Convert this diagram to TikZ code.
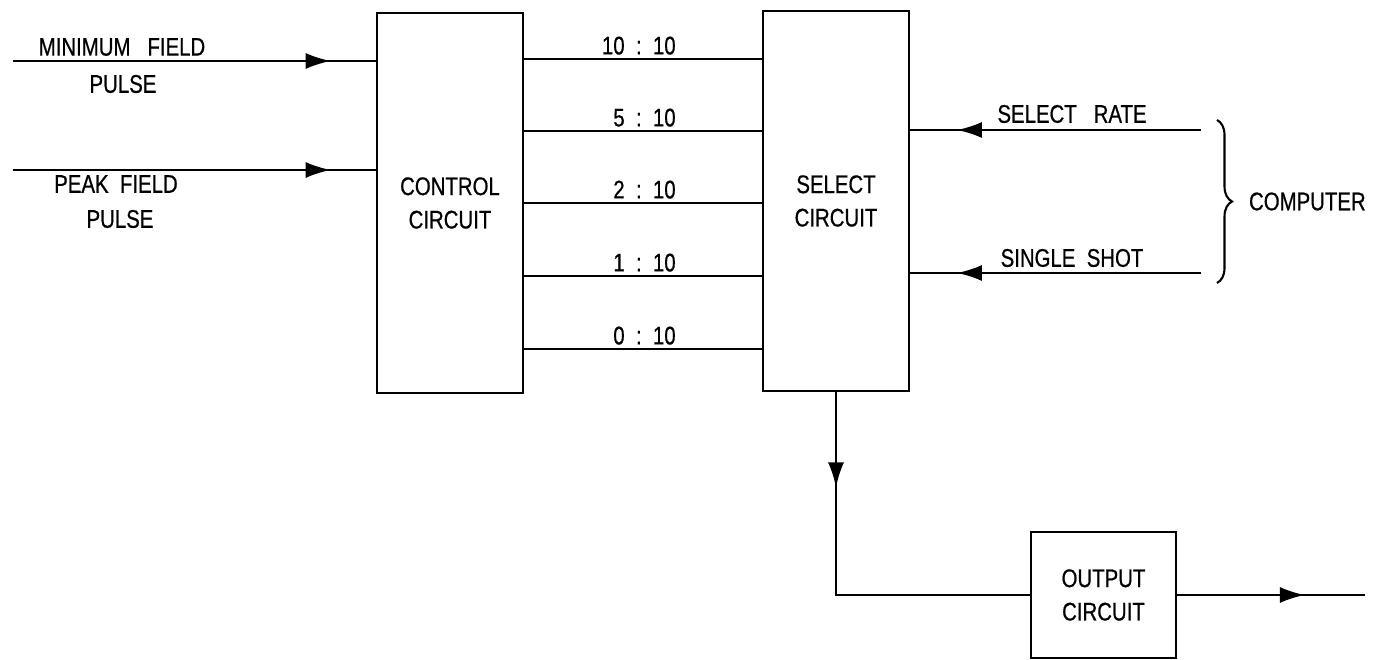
\documentclass[tikz,border=0pt]{standalone}
\usepackage{fontspec}
\setmainfont[FakeStretch=0.8,FakeBold=0.6]{Liberation Sans}
\usepackage{tikz}
\usetikzlibrary{positioning,arrows.meta,decorations.markings,decorations.pathreplacing}

\tikzset{
  blockbox/.style={draw,line width=1.5pt,minimum width=2.92cm,align=center,inner sep=0pt},
  sig/.style={line width=1.3pt},
  midarrow/.style={postaction={decorate},decoration={markings,
      mark=at position #1 with {\arrow{Latex[length=5mm,width=3.2mm]}}}},
  lbl/.style={inner sep=0pt,align=center}
}

\begin{document}
\begin{tikzpicture}[font=\fontsize{14.5}{19}\selectfont]
  \useasboundingbox (0,0) rectangle (27.6,13.2);
  % the three blocks
  \node[blockbox,minimum height=7.6cm] (ctrl) at (9.0,9.14) {CONTROL\\CIRCUIT};
  \node[blockbox,minimum height=7.6cm] (sel) at (16.72,9.18) {SELECT\\CIRCUIT};
  \node[blockbox,minimum width=2.9cm,minimum height=2.52cm] (outc) at (22.07,1.30) {OUTPUT\\CIRCUIT};

  % field pulse inputs
  \coordinate (minin) at (0.26,11.98);
  \coordinate (peakin) at (0.26,9.80);
  \draw[sig,midarrow=0.876] (minin) -- (ctrl.west |- minin);
  \draw[sig,midarrow=0.876] (peakin) -- (ctrl.west |- peakin);
  \node[lbl] (minlbl) at (2.44,12.26) {MINIMUM\ \ \ FIELD};
  \node[lbl] (minpls) at (2.46,11.52) {PULSE};
  \node[lbl] (peaklbl) at (2.32,9.52) {PEAK\ \ FIELD};
  \node[lbl] (peakpls) at (2.40,8.82) {PULSE};

  % rate lines between the blocks
  \foreach \yy/\rate/\lw in {12.02/10/1.5pt,10.58/5/1.1pt,9.14/2/1.1pt,7.68/1/1.1pt,6.22/0/1.5pt}{
    \draw[line width=\lw] (ctrl.east |- 0,\yy) -- (sel.west |- 0,\yy);
    \node[lbl,anchor=south east] at (13.52,\yy+0.08) {\rate\ \ :\ \ 10};
  }

  % computer inputs
  \coordinate (ratein) at (24.02,10.60);
  \coordinate (shotin) at (24.02,7.74);
  \draw[sig,midarrow=0.84] (ratein) -- (sel.east |- ratein);
  \draw[sig,midarrow=0.84] (shotin) -- (sel.east |- shotin);
  \node[lbl] (ratelbl) at (21.44,10.92) {SELECT\ \ \ RATE};
  \node[lbl] (shotlbl) at (21.44,8.04) {SINGLE\ \ SHOT};
  \draw[line width=1.2pt,decorate,decoration={brace,amplitude=0.3cm}]
    (24.34,10.80) -- (24.34,7.54) node[midway,right=0.62cm,lbl] (comp) {COMPUTER};

  % output path
  \coordinate (outend) at (27.30,1.30);
  \draw[sig,midarrow=0.24] (sel.south) |- (outc.west);
  \draw[sig,midarrow=0.68] (outc.east) -- (outend);
\end{tikzpicture}
\end{document}
